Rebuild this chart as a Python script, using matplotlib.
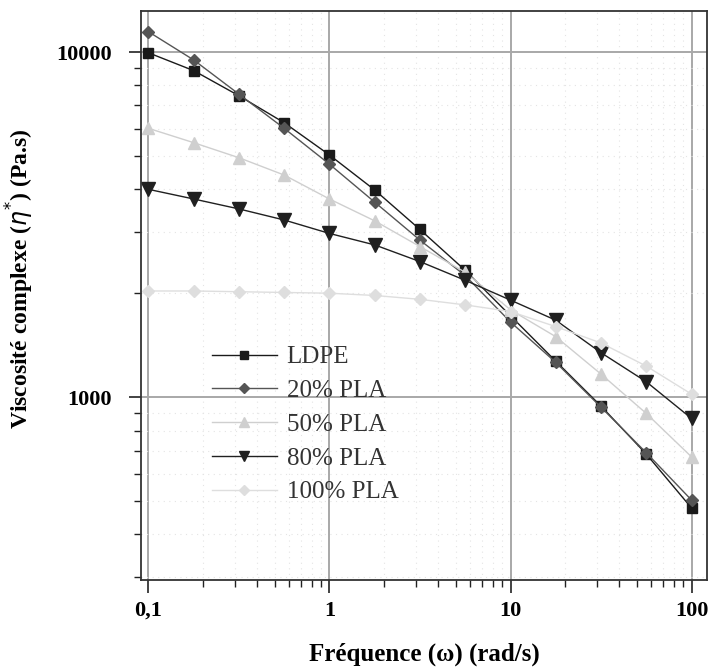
import matplotlib.pyplot as plt
from matplotlib.ticker import FixedLocator, LogLocator, NullFormatter

# fréquence (rad/s)
freq = [0.1, 0.178, 0.316, 0.562, 1, 1.78, 3.16, 5.62, 10, 17.8, 31.6, 56.2, 100]

ldpe = [9950, 8830, 7470, 6240, 5030, 3980, 3060, 2330, 1720, 1270, 942, 684, 477]
pla20 = [11450, 9480, 7550, 6010, 4730, 3670, 2850, 2250, 1650, 1260, 935, 690, 503]
pla50 = [6010, 5460, 4940, 4400, 3750, 3240, 2730, 2300, 1790, 1496, 1166, 897, 671]
pla80 = [4000, 3750, 3510, 3260, 2980, 2760, 2470, 2180, 1910, 1670, 1345, 1108, 867]
pla100 = [2030, 2030, 2020, 2010, 2000, 1970, 1920, 1850, 1770, 1600, 1435, 1230, 1020]

labels = ["LDPE", "20% PLA", "50% PLA", "80% PLA", "100% PLA"]
x_ticks = [0.1, 1, 10, 100]
x_ticklabels = ["0,1", "1", "10", "100"]
y_ticks = [1000, 10000]
y_ticklabels = ["1000", "10000"]

fig = plt.figure(figsize=(7.12, 6.71), dpi=100)
ax = fig.add_axes([0.198, 0.1356, 0.795, 0.848])

ax.plot(freq, ldpe, color="#1a1a1a", marker="s", ms=7, lw=1.0, label=labels[0])
ax.plot(freq, pla20, color="#555555", marker="D", ms=6.5, lw=1.0, label=labels[1])
ax.plot(freq, pla50, color="#cfcfcf", marker="^", ms=9, lw=1.0, label=labels[2])
ax.plot(freq, pla80, color="#202020", marker="v", ms=10, lw=1.0, label=labels[3])
ax.plot(freq, pla100, color="#dedede", marker="D", ms=6.5, lw=1.0, label=labels[4])

ax.set_xscale("log")
ax.set_yscale("log")
ax.set_xlim(0.0909, 121.8)
ax.set_ylim(295, 13150)

ax.xaxis.set_major_locator(FixedLocator(x_ticks))
ax.set_xticklabels(x_ticklabels)
ax.yaxis.set_major_locator(FixedLocator(y_ticks))
ax.set_yticklabels(y_ticklabels)
ax.xaxis.set_minor_locator(LogLocator(base=10, subs=range(2, 10)))
ax.yaxis.set_minor_locator(LogLocator(base=10, subs=range(2, 10)))
ax.xaxis.set_minor_formatter(NullFormatter())
ax.yaxis.set_minor_formatter(NullFormatter())

ax.grid(True, which="major", color="#a8a8a8", lw=1.4)
ax.grid(True, which="minor", color="#e4e4e4", lw=0.8, ls=(0, (1, 4)))
ax.set_axisbelow(True)

ax.tick_params(which="major", direction="out", length=9, width=1.2, color="#222222")
ax.tick_params(which="minor", direction="out", length=5, width=1.0, color="#222222")
ax.tick_params(labelsize=16)
ax.tick_params(axis="x", pad=6)
ax.tick_params(axis="y", pad=12)
for lab in ax.get_xticklabels() + ax.get_yticklabels():
    lab.set_fontfamily("Liberation Serif")
    lab.set_fontweight("bold")

for sp in ax.spines.values():
    sp.set_color("#333333")
    sp.set_linewidth(1.3)

ax.set_xlabel("Fréquence (ω) (rad/s)", fontsize=18, fontweight="bold",
              family="Liberation Serif", labelpad=16)
ax.set_ylabel("Viscosité complexe ($\\eta^{*}$) (Pa.s)", fontsize=17,
              fontweight="bold", family="Liberation Serif")
ax.yaxis.set_label_coords(-0.185, 0.53)

leg = ax.legend(loc="lower left", bbox_to_anchor=(0.085, 0.095), frameon=False,
                prop={"family": "Liberation Serif", "size": 18},
                handlelength=2.6, labelspacing=0.45, handletextpad=0.4,
                markerscale=0.75)
for t in leg.get_texts():
    t.set_color("#333333")

fig.savefig("out.png", dpi=100, facecolor="white")
